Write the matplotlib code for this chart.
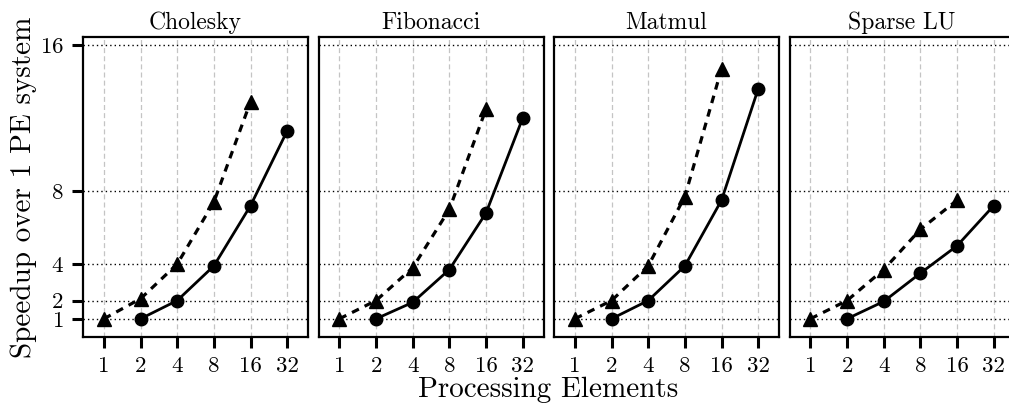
"""Speedup curves per benchmark, one panel per workload."""
import matplotlib

matplotlib.use("Agg")
import matplotlib.pyplot as plt
import numpy as np

plt.rcParams["font.family"] = "serif"
plt.rcParams["font.serif"] = ["cmr10"]
plt.rcParams["mathtext.fontset"] = "cm"
plt.rcParams["axes.unicode_minus"] = False
plt.rcParams["axes.formatter.use_mathtext"] = True

benchmarks = ["Cholesky", "Fibonacci", "Matmul", "Sparse LU"]
pe_labels = ["1", "2", "4", "8", "16", "32"]

# dashed series: 1..16 PEs
ideal_pes = ["1", "2", "4", "8", "16"]
ideal_speedup = {
    "Cholesky": [1.0, 2.1, 4.0, 7.4, 12.9],
    "Fibonacci": [1.0, 2.0, 3.8, 7.0, 12.5],
    "Matmul": [1.0, 2.0, 3.9, 7.7, 14.7],
    "Sparse LU": [1.0, 2.0, 3.7, 5.9, 7.5],
}

# solid series: 2..32 PEs
real_pes = ["2", "4", "8", "16", "32"]
real_speedup = {
    "Cholesky": [1.0, 2.0, 3.9, 7.2, 11.3],
    "Fibonacci": [1.0, 1.9, 3.7, 6.8, 12.0],
    "Matmul": [1.0, 2.0, 3.9, 7.5, 13.6],
    "Sparse LU": [1.0, 1.95, 3.5, 5.0, 7.2],
}

y_ticks = [1, 2, 4, 8, 16]

fig, axes = plt.subplots(
    1, 4, figsize=(10.09, 4.09), dpi=100, sharey=True,
    gridspec_kw=dict(left=0.0823, right=1.0055, bottom=0.176, top=0.9095, wspace=0.0467),
)

x_pos = {lab: i for i, lab in enumerate(pe_labels)}

for ax, name in zip(axes, benchmarks):
    xi = [x_pos[p] for p in ideal_pes]
    xr = [x_pos[p] for p in real_pes]
    ax.plot(xi, ideal_speedup[name], color="black", linestyle=(0, (2.4, 2.0)),
            linewidth=2.3, marker="^", markersize=10, zorder=3)
    ax.plot(xr, real_speedup[name], color="black", linestyle="-",
            linewidth=2.0, marker="o", markersize=9, zorder=3)

    ax.set_title(name, fontsize=17, pad=6)
    ax.set_xticks(np.arange(len(pe_labels)))
    ax.set_xticklabels(pe_labels, fontsize=16.5)
    ax.set_xlim(-0.57, 5.57)
    ax.set_ylim(0.0, 16.45)
    ax.set_yticks(y_ticks)

    for xv in range(len(pe_labels)):
        ax.axvline(xv, color="#c4c4c4", linestyle=(0, (4, 2.5)), linewidth=0.9, zorder=1)
    for yv in y_ticks:
        ax.axhline(yv, color="black", linestyle=(0, (1, 2.2)), linewidth=1.0, zorder=1)

    for spine in ax.spines.values():
        spine.set_linewidth(1.6)
    ax.tick_params(axis="x", direction="out", length=8, width=2.2, pad=6)
    ax.tick_params(axis="y", direction="out", length=8, width=2.2, labelsize=16.5, pad=6)

for ax in axes[1:]:
    ax.tick_params(axis="y", left=False, labelleft=False)

axes[0].set_ylabel("Speedup over 1 PE system", fontsize=21, labelpad=2)
fig.text(0.543, 0.015, "Processing Elements", ha="center", va="bottom", fontsize=21)

fig.savefig("out.png", dpi=100)
